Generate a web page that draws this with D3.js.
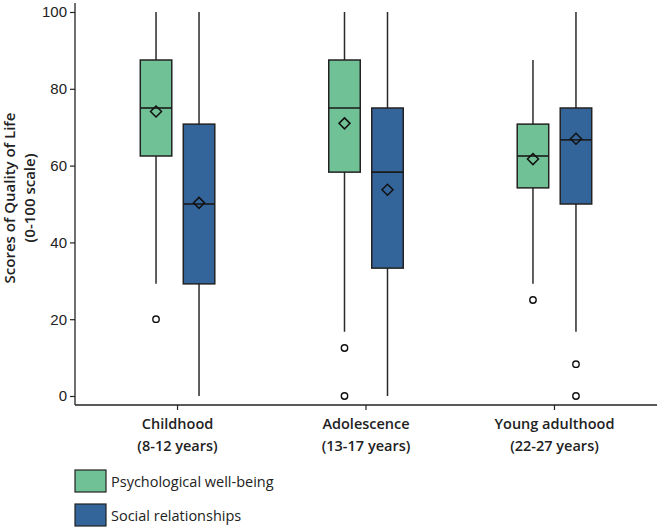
<!DOCTYPE html>
<html>
<head>
<meta charset="utf-8">
<script src="https://cdn.jsdelivr.net/npm/d3@7"></script>
<style>
  body { margin: 0; background: #fff; }
  svg { display: block; }
  .tick text.num { font-family: "Liberation Sans", Arial, sans-serif; font-size: 15px; fill: #222; }
</style>
</head>
<body>
<div id="chart"></div>
<script>
// groups on the x axis
var categories = ["Childhood", "Adolescence", "Young adulthood"];
var ageRanges = ["(8-12 years)", "(13-17 years)", "(22-27 years)"];
var seriesNames = ["Psychological well-being", "Social relationships"];

// [whisker low, q1, median, q3, whisker high] per category
var psychBoxes = [
  [29.2, 62.5, 75, 87.5, 100],
  [16.7, 58.3, 75, 87.5, 100],
  [29.2, 54.2, 62.5, 70.8, 87.5]
];
var psychMeans = [74.1, 71.0, 61.7];
var psychOutliers = [[20], [12.5, 0], [25]];

var socialBoxes = [
  [0, 29.2, 50, 70.8, 100],
  [0, 33.3, 58.3, 75, 100],
  [16.7, 50, 66.7, 75, 100]
];
var socialMeans = [50.3, 53.7, 67.0];
var socialOutliers = [[], [], [8.3, 0]];

var yTicks = [0, 20, 40, 60, 80, 100];
var colors = ["#70c196", "#34659a"];

var w = 661, h = 527;
var plotLeft = 75, plotRight = 657, plotTop = 12, plotBottom = 396, axisY = 405;

var svg = d3.select("#chart")
  .append("svg")
  .attr("width", w)
  .attr("height", h);

var x = d3.scalePoint()
  .domain(categories)
  .range([plotLeft, plotRight])
  .padding(0.544);

var y = d3.scaleLinear()
  .domain([0, 100])
  .range([plotBottom, plotTop]);

var offset = d3.scaleOrdinal()
  .domain(seriesNames)
  .range([-21.5, 21.5]);

var boxW = 31.5;

// y axis
var yAxis = svg.append("g")
  .attr("transform", "translate(" + plotLeft + ",0)")
  .call(d3.axisLeft(y).tickValues(yTicks).tickSize(5).tickPadding(3));
yAxis.select(".domain").remove();
yAxis.selectAll(".tick line").attr("stroke", "#222").attr("stroke-width", 1.2);
yAxis.selectAll(".tick text").attr("class", "num");
svg.append("line")
  .attr("x1", plotLeft).attr("x2", plotLeft)
  .attr("y1", 3).attr("y2", axisY)
  .attr("stroke", "#222").attr("stroke-width", 1.3);

// x axis
svg.append("line")
  .attr("x1", plotLeft).attr("x2", plotRight)
  .attr("y1", axisY).attr("y2", axisY)
  .attr("stroke", "#222").attr("stroke-width", 1.3);

var xt = svg.selectAll(".xtick")
  .data(categories)
  .enter().append("g")
  .attr("class", "xtick")
  .attr("transform", function(d){ return "translate(" + x(d) + "," + axisY + ")"; });
xt.append("line").attr("y2", 5).attr("stroke", "#222").attr("stroke-width", 1.2);
xt.append("text")
  .attr("y", 24)
  .attr("text-anchor", "middle")
  .style("font-family", "'Open Sans', sans-serif")
  .style("font-weight", 600)
  .style("font-size", "14.5px")
  .attr("fill", "#222")
  .text(function(d){ return d; });
xt.append("text")
  .attr("y", 46)
  .attr("text-anchor", "middle")
  .style("font-family", "'Open Sans', sans-serif")
  .style("font-weight", 600)
  .style("font-size", "14.5px")
  .attr("fill", "#222")
  .text(function(d, i){ return ageRanges[i]; });

// y title
var yt = svg.append("text")
  .attr("transform", "translate(0,198) rotate(-90)")
  .attr("text-anchor", "middle")
  .style("font-family", "'Open Sans', sans-serif")
  .style("font-weight", 600)
  .style("font-size", "15px")
  .attr("fill", "#222");
yt.append("tspan").attr("x", 0).attr("y", 15).text("Scores of Quality of Life");
yt.append("tspan").attr("x", 0).attr("y", 35).text("(0-100 scale)");

// boxes
var boxData = [];
categories.forEach(function(c, i){
  boxData.push({cat: c, s: seriesNames[0], st: psychBoxes[i], mean: psychMeans[i], out: psychOutliers[i], color: colors[0]});
  boxData.push({cat: c, s: seriesNames[1], st: socialBoxes[i], mean: socialMeans[i], out: socialOutliers[i], color: colors[1]});
});

var g = svg.selectAll(".box")
  .data(boxData)
  .enter().append("g")
  .attr("class", "box")
  .attr("transform", function(d){ return "translate(" + (x(d.cat) + offset(d.s)) + ",0)"; });

g.append("line")
  .attr("y1", function(d){ return y(d.st[0]); })
  .attr("y2", function(d){ return y(d.st[4]); })
  .attr("stroke", "#2a2a2a").attr("stroke-width", 1.5);

g.append("rect")
  .attr("x", -boxW / 2)
  .attr("width", boxW)
  .attr("y", function(d){ return y(d.st[3]); })
  .attr("height", function(d){ return y(d.st[1]) - y(d.st[3]); })
  .attr("fill", function(d){ return d.color; })
  .attr("stroke", "#222").attr("stroke-width", 1.5);

g.append("line")
  .attr("x1", -boxW / 2).attr("x2", boxW / 2)
  .attr("y1", function(d){ return y(d.st[2]); })
  .attr("y2", function(d){ return y(d.st[2]); })
  .attr("stroke", "#1a1a1a").attr("stroke-width", 1.6);

g.append("path")
  .attr("d", function(d){
    var cy = y(d.mean), r = 5.5;
    return "M0," + (cy - r) + "L" + r + "," + cy + "L0," + (cy + r) + "L" + (-r) + "," + cy + "Z";
  })
  .attr("fill", "none")
  .attr("stroke", "#111").attr("stroke-width", 1.5);

g.selectAll(".outlier")
  .data(function(d){ return d.out; })
  .enter().append("circle")
  .attr("class", "outlier")
  .attr("cy", function(v){ return y(v); })
  .attr("r", 3.2)
  .attr("fill", "#fff")
  .attr("stroke", "#111").attr("stroke-width", 1.4);

// legend
var leg = svg.selectAll(".leg")
  .data(seriesNames)
  .enter().append("g")
  .attr("class", "leg")
  .attr("transform", function(d, i){ return "translate(75," + (470 + i * 34) + ")"; });
leg.append("rect")
  .attr("width", 31).attr("height", 22)
  .attr("fill", function(d, i){ return colors[i]; })
  .attr("stroke", "#222").attr("stroke-width", 1.2);
leg.append("text")
  .attr("x", 36).attr("y", 17)
  .style("font-family", "'Open Sans', sans-serif")
  .style("font-size", "14.5px")
  .attr("fill", "#222")
  .text(function(d){ return d; });
</script>
</body>
</html>
